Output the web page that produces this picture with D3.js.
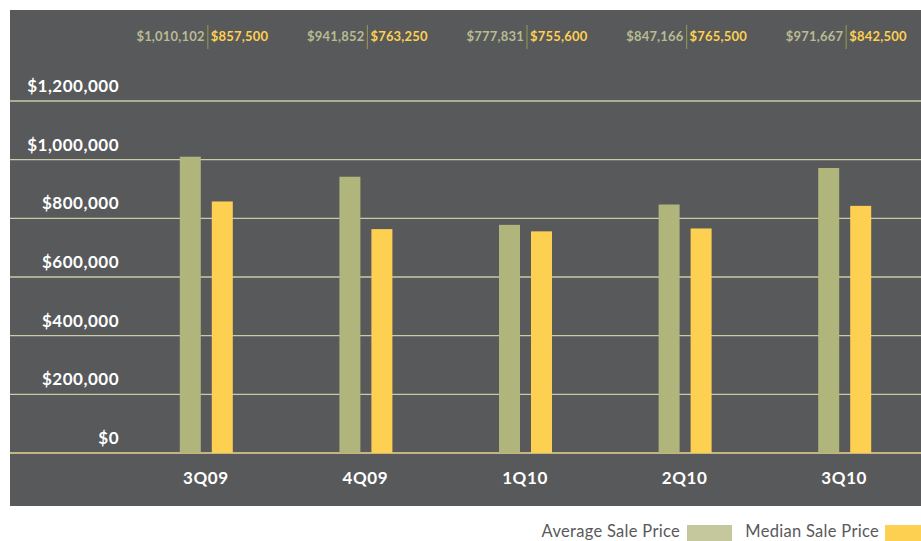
<!DOCTYPE html>
<html>
<head>
<meta charset="utf-8">
<script src="https://cdn.jsdelivr.net/npm/d3@7"></script>
<style>
  html, body { margin: 0; padding: 0; background: #fff; }
  svg { display: block; }
  text { font-family: Lato, "Open Sans", sans-serif; }
</style>
</head>
<body>
<svg id="chart" width="921" height="541"></svg>
<script>
const quarters = ['3Q09', '4Q09', '1Q10', '2Q10', '3Q10'];
const avgPrice = [1010102, 941852, 777831, 847166, 971667];
const medianPrice = [857500, 763250, 755600, 765500, 842500];
const yTicks = [0, 200000, 400000, 600000, 800000, 1000000, 1200000];
const seriesNames = ['Average Sale Price', 'Median Sale Price'];

const width = 921;
const height = 541;

const svg = d3.select('#chart');

// dark panel
svg.append('rect')
  .attr('x', 10).attr('y', 10)
  .attr('width', width - 10).attr('height', 496)
  .attr('fill', '#58595b');

const x = d3.scaleBand()
  .domain(quarters)
  .range([126, 924])
  .padding(0);

const y = d3.scaleLinear()
  .domain([0, 1200000])
  .range([453, 101]);

const money = d3.format('$,');

// gridlines + y labels
const grid = svg.append('g').classed('grid', true);
grid.selectAll('line')
  .data(yTicks)
  .enter()
  .append('line')
  .attr('x1', 10).attr('x2', width)
  .attr('y1', d => y(d)).attr('y2', d => y(d))
  .attr('stroke', d => d === 0 ? '#e9d58f' : '#c9cba7')
  .attr('stroke-width', 1.3);

grid.selectAll('text')
  .data(yTicks)
  .enter()
  .append('text')
  .attr('x', 119)
  .attr('y', d => y(d) - 9)
  .attr('text-anchor', 'end')
  .attr('fill', '#fff')
  .style('font-weight', 700)
  .style('font-size', '17px')
  .style('letter-spacing', '0.5px')
  .text(d => money(d));

// bars
const barW = 21;
const cats = svg.append('g').selectAll('g')
  .data(quarters)
  .enter()
  .append('g')
  .attr('transform', d => `translate(${x(d) + x.bandwidth() / 2}, 0)`);

cats.append('rect')
  .attr('x', -26)
  .attr('y', (d, i) => y(avgPrice[i]))
  .attr('width', barW)
  .attr('height', (d, i) => y(0) - y(avgPrice[i]))
  .attr('fill', '#b0b57b');

cats.append('rect')
  .attr('x', 6)
  .attr('y', (d, i) => y(medianPrice[i]))
  .attr('width', barW)
  .attr('height', (d, i) => y(0) - y(medianPrice[i]))
  .attr('fill', '#fdd052');

// category labels
cats.append('text')
  .attr('x', 0)
  .attr('y', 484)
  .attr('text-anchor', 'middle')
  .attr('fill', '#fff')
  .style('font-weight', 700)
  .style('font-size', '17px')
  .style('letter-spacing', '0.6px')
  .text(d => d);

// value labels on top
cats.append('line')
  .attr('x1', 2).attr('x2', 2)
  .attr('y1', 25).attr('y2', 49)
  .attr('stroke', '#8e8f52')
  .attr('stroke-width', 1.2);

cats.append('text')
  .attr('x', -1)
  .attr('y', 41)
  .attr('text-anchor', 'end')
  .attr('fill', '#b8bb92')
  .style('font-weight', 700)
  .style('font-size', '13px')
  .style('letter-spacing', '0.2px')
  .text((d, i) => money(avgPrice[i]));

cats.append('text')
  .attr('x', 5)
  .attr('y', 41)
  .attr('text-anchor', 'start')
  .attr('fill', '#fdd052')
  .style('font-weight', 700)
  .style('font-size', '13px')
  .style('letter-spacing', '0.2px')
  .text((d, i) => money(medianPrice[i]));

// legend
const legend = svg.append('g');
const legendItems = [
  { name: seriesNames[0], color: '#c5c89c', textEnd: 680, swatchX: 687, swatchW: 45 },
  { name: seriesNames[1], color: '#fdd052', textEnd: 879, swatchX: 885, swatchW: 40 }
];
legend.selectAll('text')
  .data(legendItems)
  .enter()
  .append('text')
  .attr('x', d => d.textEnd)
  .attr('y', 537)
  .attr('text-anchor', 'end')
  .attr('fill', '#58595b')
  .style('font-size', '16.5px')
  .style('letter-spacing', '0.3px')
  .text(d => d.name);

legend.selectAll('rect')
  .data(legendItems)
  .enter()
  .append('rect')
  .attr('x', d => d.swatchX)
  .attr('y', 525)
  .attr('width', d => d.swatchW)
  .attr('height', 20)
  .attr('fill', d => d.color);
</script>
</body>
</html>
